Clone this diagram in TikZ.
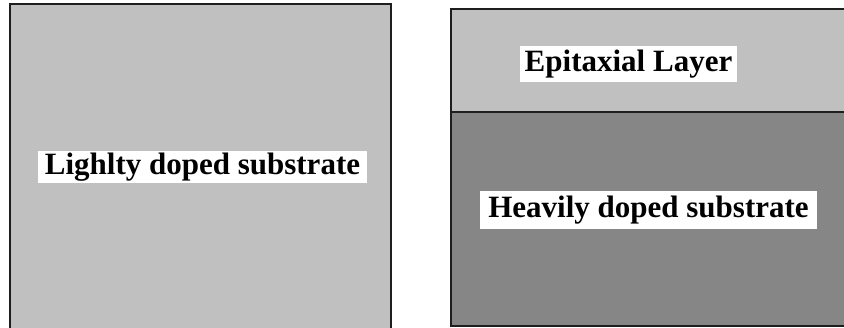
\documentclass[tikz,border=0pt]{standalone}
\usepackage{fontspec}
\setmainfont{Liberation Serif}
\definecolor{lightsub}{RGB}{192,192,192}
\definecolor{heavysub}{RGB}{134,134,134}
\definecolor{edge}{RGB}{30,30,30}
\tikzset{
  layer/.style={draw=edge, line width=2pt},
  lbl/.style={fill=white, inner sep=0pt, font=\fontsize{31}{33}\selectfont\bfseries, text=black, anchor=center}
}
\begin{document}
\begin{tikzpicture}[x=1pt,y=-1pt]
\useasboundingbox (0,0) rectangle (844,328);
\clip (0,0) rectangle (844,328);
% left wafer
\path[layer, fill=lightsub] (10,4) rectangle (391,340);
% right wafer
\path[layer, fill=lightsub] (451,9) rectangle (860,112);
\path[layer, fill=heavysub] (451,112) rectangle (860,326);
\node[lbl, minimum width=329pt, minimum height=32pt] (light) at (202.5,167) {Lighlty doped substrate};
\node[lbl, minimum width=217pt, minimum height=36pt] (epi) at (628.5,64) {Epitaxial Layer};
\node[lbl, minimum width=337pt, minimum height=38pt] (heavy) at (648.5,210) {Heavily doped substrate};
\end{tikzpicture}
\end{document}
